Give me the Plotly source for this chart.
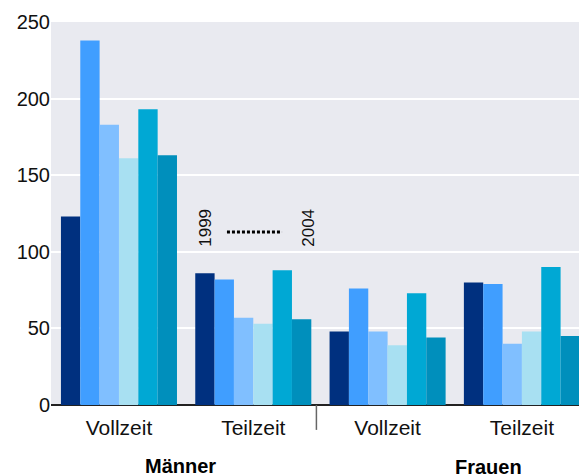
import plotly.graph_objects as go

# Data
categories = ["Vollzeit", "Teilzeit", "Vollzeit", "Teilzeit"]
years = ["1999", "2000", "2001", "2002", "2003", "2004"]
values = {
    "1999": [123, 86, 48, 80],
    "2000": [238, 82, 76, 79],
    "2001": [183, 57, 48, 40],
    "2002": [161, 53, 39, 48],
    "2003": [193, 88, 73, 90],
    "2004": [163, 56, 44, 45],
}
colors = ["#00307F", "#409EFF", "#80BFFF", "#A8E0F2", "#00A8D4", "#008FBC"]
group_labels = ["Männer", "Frauen"]
ytick_vals = [0, 50, 100, 150, 200, 250]

FONT = "Liberation Sans, Arial, sans-serif"
xpos = list(range(len(categories)))

fig = go.Figure()
for yr, col in zip(years, colors):
    fig.add_trace(go.Bar(x=xpos, y=values[yr], name=yr, marker_color=col,
                         marker_line_width=0, showlegend=False))

fig.update_layout(
    width=579, height=476,
    margin=dict(l=51, r=0, t=22, b=71, autoexpand=False),
    paper_bgcolor="white", plot_bgcolor="#E9EAF0",
    barmode="group", bargap=0.136, bargroupgap=0,
    font=dict(family=FONT, size=20, color="black"),
    xaxis=dict(range=[-0.506, 3.425], tickvals=xpos, ticktext=categories,
               showgrid=False, zeroline=False, ticks="", ticklabelstandoff=8,
               automargin=False, tickfont=dict(size=21, color="#111")),
    yaxis=dict(range=[0, 250], tickvals=ytick_vals, gridcolor="white", gridwidth=1.5,
               zeroline=True, zerolinecolor="#222", zerolinewidth=2,
               automargin=False, ticks="", tickfont=dict(size=20, color="#111")),
)

# separator tick between groups
fig.add_shape(type="line", xref="x", yref="paper", x0=1.47, x1=1.47, y0=0, y1=-0.065,
              line=dict(color="#666", width=1.5))

# year range indicator
fig.add_shape(type="line", xref="x", yref="y", x0=0.804, x1=1.214, y0=113, y1=113,
              line=dict(color="black", width=3, dash="3px,2px"))
fig.add_annotation(x=0.644, y=116, xref="x", yref="y", text=years[0], textangle=-90,
                   showarrow=False, font=dict(size=17, color="#111"))
fig.add_annotation(x=1.411, y=116, xref="x", yref="y", text=years[-1], textangle=-90,
                   showarrow=False, font=dict(size=17, color="#111"))

# group labels
fig.add_annotation(x=0.246, y=-0.159, xref="paper", yref="paper", text="<b>%s</b>" % group_labels[0],
                   xanchor="center", yanchor="middle",
                   showarrow=False, font=dict(size=20, color="black"))
fig.add_annotation(x=0.8295, y=-0.161, xref="paper", yref="paper", text="<b>%s</b>" % group_labels[1],
                   xanchor="center", yanchor="middle",
                   showarrow=False, font=dict(size=20, color="black"))

fig.write_html("out.html", config={"displayModeBar": False},
               post_script="document.body.style.margin='0';")
